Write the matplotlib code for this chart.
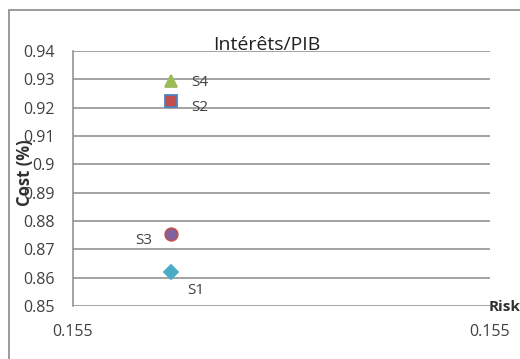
import numpy as np
import matplotlib
matplotlib.use("Agg")
import matplotlib.pyplot as plt
from matplotlib.patches import Rectangle

# scenarios: risk vs cost
names = ["S1", "S2", "S3", "S4"]
risk = [0.1550235, 0.1550235, 0.1550235, 0.1550235]
cost = [0.862, 0.9224, 0.8755, 0.9295]

markers = ["D", "s", "o", "^"]
faces = ["#4BACC6", "#C0504D", "#8064A2", "#9BBB59"]
edges = ["#4BACC6", "#4F81BD", "#C0504D", "#9BBB59"]
sizes = [7, 8, 9, 9]
# label offsets in points (dx, dy, ha)
offs = [(11.5, -13, "left"), (14.5, -4.5, "left"), (-13.5, -5, "right"), (14.5, -1, "left")]

yticks = np.round(np.arange(0.85, 0.9401, 0.01), 2)
xlim = (0.15500, 0.15510)

plt.rcParams['font.family'] = ['Open Sans', 'DejaVu Sans']

fig = plt.figure(figsize=(5.2, 3.59), dpi=100)
fig.patches.append(Rectangle((9 / 520, -0.2), 1.2, 1.2 - 10 / 359,
                             transform=fig.transFigure, fill=False,
                             edgecolor="#8a8a8a", linewidth=1.2))

ax = fig.add_axes([73 / 520, 1 - 306 / 359, 417 / 520, 255 / 359])

for i in range(len(names)):
    ax.plot(risk[i], cost[i], marker=markers[i], markersize=sizes[i],
            markerfacecolor=faces[i], markeredgecolor=edges[i],
            markeredgewidth=1.3, linestyle="none", zorder=3)
    dx, dy, ha = offs[i]
    ax.annotate(names[i], (risk[i], cost[i]), xytext=(dx, dy),
                textcoords="offset points", ha=ha, va="center",
                fontsize=11, color="#404040")

ax.set_xlim(*xlim)
ax.set_ylim(0.85, 0.94)
ax.set_yticks(yticks)
ax.set_yticklabels([f"{v:g}" for v in yticks])
ax.set_xticks(list(xlim))
ax.set_xticklabels([f"{v:.3f}" for v in xlim])
ax.yaxis.grid(True, color="#8a8a8a", linewidth=1.1)
ax.set_axisbelow(True)
for s in ["top", "right", "bottom"]:
    ax.spines[s].set_visible(False)
ax.spines["left"].set_color("#8a8a8a")
ax.spines["left"].set_linewidth(1.1)
ax.tick_params(axis="both", length=0, labelsize=11.5, labelcolor="#404040")
ax.tick_params(axis="y", pad=13)
ax.tick_params(axis="x", pad=13)

ax.text(0.465, 1.004, "Intérêts/PIB", transform=ax.transAxes, ha="center",
        va="baseline", fontsize=14, color="#202020")
# axis title sits over the tick labels, as in the spreadsheet export
fig.text(25 / 520, 1 - 173 / 359, "Cost (%)", rotation=90, fontsize=12,
         fontweight="bold", color="#303030", ha="center", va="center")
fig.text(489 / 520, 1 - 307 / 359, "Risk", fontsize=11, fontweight="bold",
         color="#303030", ha="left", va="center")

fig.savefig("out.png", dpi=100)
